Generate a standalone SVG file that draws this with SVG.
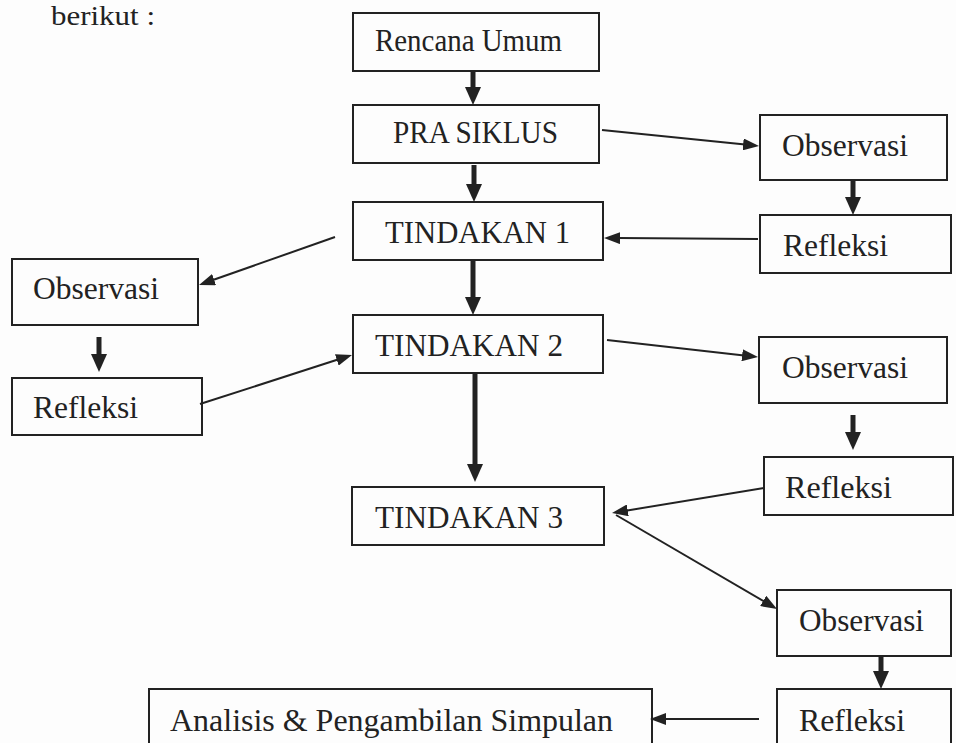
<svg xmlns="http://www.w3.org/2000/svg" width="956" height="743" viewBox="0 0 956 743">
<style>
.box{fill:none;stroke:#222;stroke-width:2}
.t{font-family:"Liberation Serif","Times New Roman",serif;font-size:31px;fill:#222}
.thin{stroke:#222;stroke-width:2;fill:none}
.thick{stroke:#222;stroke-width:5;fill:none}
</style>
<defs>
<marker id="ah" markerUnits="userSpaceOnUse" markerWidth="16" markerHeight="12" refX="2" refY="6" orient="auto">
<path d="M0,0 L16,6 L0,12 z" fill="#222"/>
</marker>
<marker id="ahb" markerUnits="userSpaceOnUse" markerWidth="18" markerHeight="16" refX="2" refY="8" orient="auto">
<path d="M0,0 L18,8 L0,16 z" fill="#222"/>
</marker>
</defs>
<rect width="956" height="743" fill="#fdfdfd"/>
<text class="t" x="51" y="25" style="font-size:27px" textLength="104" lengthAdjust="spacingAndGlyphs">berikut :</text>
<g id="rencana"><rect class="box" x="353" y="13" width="246" height="58"/><text class="t" x="375" y="51" textLength="187" lengthAdjust="spacingAndGlyphs">Rencana Umum</text></g>
<g id="pra"><rect class="box" x="353" y="105" width="246" height="58"/><text class="t" x="393" y="143" textLength="165" lengthAdjust="spacingAndGlyphs">PRA SIKLUS</text></g>
<g id="t1"><rect class="box" x="353" y="202" width="250" height="58"/><text class="t" x="385" y="243" textLength="185" lengthAdjust="spacingAndGlyphs">TINDAKAN 1</text></g>
<g id="t2"><rect class="box" x="353" y="315" width="250" height="58"/><text class="t" x="375" y="356" textLength="188" lengthAdjust="spacingAndGlyphs">TINDAKAN 2</text></g>
<g id="t3"><rect class="box" x="352" y="487" width="252" height="58"/><text class="t" x="375" y="528" textLength="188" lengthAdjust="spacingAndGlyphs">TINDAKAN 3</text></g>
<g id="obsR1"><rect class="box" x="760" y="115" width="187" height="65"/><text class="t" x="782" y="156" textLength="126" lengthAdjust="spacingAndGlyphs">Observasi</text></g>
<g id="refR1"><rect class="box" x="760" y="215" width="191" height="58"/><text class="t" x="783" y="256" textLength="105" lengthAdjust="spacingAndGlyphs">Refleksi</text></g>
<g id="obsL"><rect class="box" x="12" y="259" width="186" height="66"/><text class="t" x="33" y="299" textLength="126" lengthAdjust="spacingAndGlyphs">Observasi</text></g>
<g id="refL"><rect class="box" x="12" y="378" width="190" height="57"/><text class="t" x="33" y="418" textLength="105" lengthAdjust="spacingAndGlyphs">Refleksi</text></g>
<g id="obsR2"><rect class="box" x="759" y="337" width="188" height="66"/><text class="t" x="782" y="378" textLength="126" lengthAdjust="spacingAndGlyphs">Observasi</text></g>
<g id="refR2"><rect class="box" x="764" y="457" width="189" height="58"/><text class="t" x="785" y="498" textLength="107" lengthAdjust="spacingAndGlyphs">Refleksi</text></g>
<g id="obsR3"><rect class="box" x="777" y="590" width="174" height="66"/><text class="t" x="799" y="631" textLength="125" lengthAdjust="spacingAndGlyphs">Observasi</text></g>
<g id="refR3"><rect class="box" x="777" y="689" width="174" height="60"/><text class="t" x="799" y="731" textLength="106" lengthAdjust="spacingAndGlyphs">Refleksi</text></g>
<g id="analisis"><rect class="box" x="149" y="689" width="503" height="60"/><text class="t" x="170" y="731" textLength="443" lengthAdjust="spacingAndGlyphs">Analisis &amp; Pengambilan Simpulan</text></g>
<g id="connectors">
<line class="thick" x1="473" y1="71" x2="473" y2="89" marker-end="url(#ahb)"/>
<line class="thick" x1="474" y1="165" x2="474" y2="186" marker-end="url(#ahb)"/>
<line class="thin" x1="602" y1="130" x2="745.1" y2="144.6" marker-end="url(#ah)"/>
<line class="thick" x1="853" y1="180" x2="853" y2="199" marker-end="url(#ahb)"/>
<line class="thin" x1="758" y1="239" x2="618" y2="238.1" marker-end="url(#ah)"/>
<line class="thin" x1="335" y1="237" x2="212.2" y2="280.3" marker-end="url(#ah)"/>
<line class="thick" x1="473" y1="260" x2="473" y2="299" marker-end="url(#ahb)"/>
<line class="thick" x1="99" y1="337" x2="99" y2="356" marker-end="url(#ahb)"/>
<line class="thin" x1="200" y1="404" x2="338.7" y2="359.3" marker-end="url(#ah)"/>
<line class="thin" x1="607" y1="340" x2="744.1" y2="355.4" marker-end="url(#ah)"/>
<line class="thick" x1="853" y1="415" x2="853" y2="434" marker-end="url(#ahb)"/>
<line class="thick" x1="475" y1="373" x2="475" y2="466" marker-end="url(#ahb)"/>
<line class="thin" x1="764" y1="488" x2="625.8" y2="510.7" marker-end="url(#ah)"/>
<line class="thin" x1="616" y1="515" x2="764.9" y2="601.9" marker-end="url(#ah)"/>
<line class="thick" x1="881" y1="656" x2="881" y2="673" marker-end="url(#ahb)"/>
<line class="thin" x1="759" y1="719" x2="664" y2="719" marker-end="url(#ah)"/>
</g>
</svg>
